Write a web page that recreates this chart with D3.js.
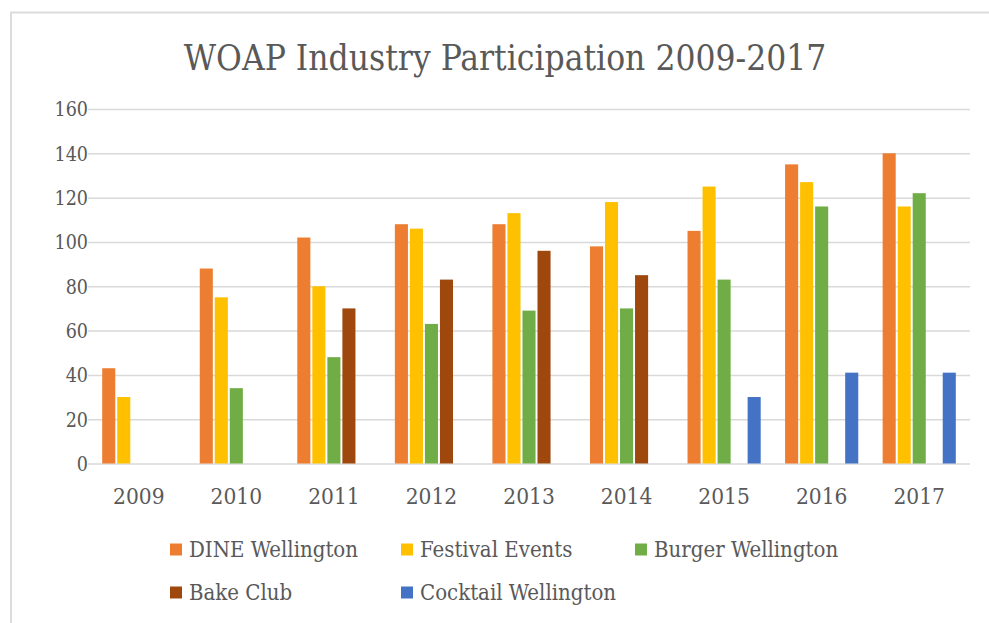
<!DOCTYPE html>
<html>
<head>
<meta charset="utf-8">
<script src="https://cdn.jsdelivr.net/npm/d3@7"></script>
<style>
  html, body { margin: 0; padding: 0; background: #fff; }
  svg { display: block; }
  text { font-family: "DejaVu Serif Condensed", "DejaVu Serif", serif; fill: #595959; }
</style>
</head>
<body>
<svg id="chart" width="989" height="623"></svg>
<script>
const years = ["2009","2010","2011","2012","2013","2014","2015","2016","2017"];
const seriesNames = ["DINE Wellington","Festival Events","Burger Wellington","Bake Club","Cocktail Wellington"];
const dineWellington   = [43, 88, 102, 108, 108, 98, 105, 135, 140];
const festivalEvents   = [30, 75, 80, 106, 113, 118, 125, 127, 116];
const burgerWellington = [null, 34, 48, 63, 69, 70, 83, 116, 122];
const bakeClub         = [null, null, 70, 83, 96, 85, null, null, null];
const cocktailWellington = [null, null, null, null, null, null, 30, 41, 41];
const yTicks = [0, 20, 40, 60, 80, 100, 120, 140, 160];
const colors = ["#ED7D31", "#FFC000", "#70AD47", "#9E480E", "#4472C4"];
const title = "WOAP Industry Participation 2009-2017";

const seriesValues = [dineWellington, festivalEvents, burgerWellington, bakeClub, cocktailWellington];

const svg = d3.select("#chart");

// chart border (light frame at top and left)
svg.append("line").attr("x1", 10).attr("x2", 989).attr("y1", 12.5).attr("y2", 12.5)
  .attr("stroke", "#dcdcdc").attr("stroke-width", 2);
svg.append("line").attr("x1", 11).attr("x2", 11).attr("y1", 12).attr("y2", 623)
  .attr("stroke", "#dcdcdc").attr("stroke-width", 2);

const plot = { left: 90, right: 968, top: 109, bottom: 463.5 };

const y = d3.scaleLinear().domain([0, 160]).range([plot.bottom, plot.top]);
const x0 = d3.scaleBand().domain(years).range([plot.left, plot.right])
  .paddingInner(0.23).paddingOuter(0.115);
const x1 = d3.scaleBand().domain(seriesNames).range([0, x0.bandwidth()])
  .paddingInner(0.13).paddingOuter(0.065);
const color = d3.scaleOrdinal().domain(seriesNames).range(colors);

// title
svg.append("text")
  .attr("x", 505).attr("y", 70)
  .attr("text-anchor", "middle")
  .style("font-size", "35px")
  .text(title);

// gridlines
const yAxis = d3.axisLeft(y).tickValues(yTicks).tickSize(-(plot.right - plot.left + 4)).tickPadding(0);
const gy = svg.append("g").attr("transform", `translate(${plot.left - 2},0)`).call(yAxis);
gy.select(".domain").remove();
gy.selectAll(".tick line").attr("stroke", "#d9d9d9").attr("stroke-width", 1.5);
gy.selectAll(".tick text").attr("x", 0).attr("dy", "0.35em")
  .style("font-size", "19.5px").attr("fill", "#595959");

// bars
const rows = years.map((yr, i) => ({ year: yr, vals: seriesNames.map((s, j) => ({ s, v: seriesValues[j][i] })) }));
const groups = svg.append("g").selectAll("g").data(rows).join("g")
  .attr("transform", d => `translate(${x0(d.year)},0)`);
groups.selectAll("rect").data(d => d.vals.filter(e => e.v !== null)).join("rect")
  .attr("x", d => x1(d.s))
  .attr("width", x1.bandwidth())
  .attr("y", d => y(d.v))
  .attr("height", d => y(0) - y(d.v))
  .attr("fill", d => color(d.s));

// x axis labels
const xAxis = d3.axisBottom(x0).tickSize(0).tickPadding(0);
const gx = svg.append("g").attr("transform", `translate(0,${plot.bottom})`).call(xAxis);
gx.select(".domain").remove();
gx.selectAll(".tick text").attr("y", 40.5).attr("dy", 0)
  .style("font-size", "22.5px").attr("fill", "#595959");

// legend
const legendPos = [
  { x: 170, y: 549.5 }, { x: 401, y: 549.5 }, { x: 635, y: 549.5 },
  { x: 170, y: 592.5 }, { x: 401, y: 592.5 }
];
const lg = svg.append("g").selectAll("g").data(seriesNames).join("g")
  .attr("transform", (d, i) => `translate(${legendPos[i].x},${legendPos[i].y})`);
lg.append("rect").attr("x", 0).attr("y", -6).attr("width", 12).attr("height", 12)
  .attr("fill", d => color(d));
lg.append("text").attr("x", 19).attr("y", 0).attr("dy", "0.35em")
  .style("font-size", "22px").text(d => d);
</script>
</body>
</html>
